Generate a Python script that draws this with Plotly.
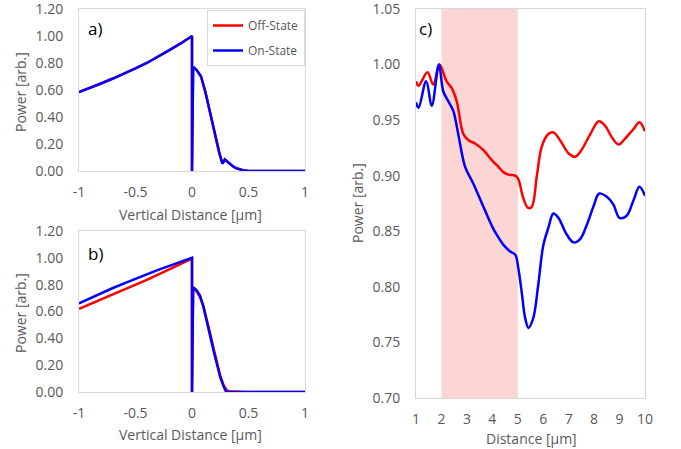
import plotly.graph_objects as go

W, H = 681, 449

# ---------- data ----------
# Panel a
a_x_off = [-1, -0.9, -0.8, -0.7, -0.6, -0.5, -0.4, -0.3, -0.2, -0.1, 0, 0,
           0.01, 0.04, 0.08, 0.12, 0.15, 0.18, 0.21, 0.24, 0.26, 0.27, 0.29, 0.31,
           0.34, 0.37, 0.40, 0.45, 0.50, 0.60, 0.75, 0.80, 0.85, 1.0]
a_y_off = [0.585, 0.615, 0.65, 0.685, 0.72, 0.76, 0.80, 0.845, 0.895, 0.945, 1.0, 0.0,
           0.77, 0.75, 0.70, 0.58, 0.47, 0.34, 0.23, 0.14, 0.08, 0.055, 0.085, 0.07,
           0.05, 0.03, 0.018, 0.006, 0.0, 0.0, 0.002, 0.004, 0.0, 0.0]
a_x_on = [-1, -0.9, -0.8, -0.7, -0.6, -0.5, -0.4, -0.3, -0.2, -0.1, 0, 0,
          0.01, 0.04, 0.08, 0.12, 0.15, 0.18, 0.21, 0.24, 0.26, 0.27, 0.29, 0.31,
          0.34, 0.37, 0.40, 0.45, 0.50, 0.60, 0.80, 1.0]
a_y_on = [0.585, 0.615, 0.65, 0.685, 0.72, 0.76, 0.80, 0.845, 0.895, 0.945, 1.0, 0.0,
          0.77, 0.75, 0.70, 0.58, 0.47, 0.34, 0.23, 0.14, 0.08, 0.055, 0.085, 0.07,
          0.05, 0.03, 0.018, 0.006, 0.0, 0.0, 0.0, 0.0]

# Panel b
b_x_off = [-1, -0.9, -0.8, -0.7, -0.6, -0.5, -0.4, -0.3, -0.2, -0.1, 0, 0,
           0.01, 0.04, 0.07, 0.10, 0.13, 0.16, 0.19, 0.22, 0.25, 0.28, 0.31, 0.35, 0.5, 1.0]
b_y_off = [0.62, 0.655, 0.69, 0.725, 0.76, 0.795, 0.835, 0.875, 0.915, 0.955, 0.995, 0.0,
           0.77, 0.75, 0.71, 0.64, 0.55, 0.44, 0.33, 0.22, 0.12, 0.05, 0.01, 0.003, 0.0, 0.0]
b_x_on = [-1, -0.9, -0.8, -0.7, -0.6, -0.5, -0.4, -0.3, -0.2, -0.1, 0, 0,
          0.01, 0.04, 0.07, 0.10, 0.13, 0.16, 0.19, 0.22, 0.25, 0.28, 0.30, 0.32, 0.5, 1.0]
b_y_on = [0.66, 0.70, 0.74, 0.775, 0.81, 0.845, 0.88, 0.91, 0.94, 0.97, 1.0, 0.0,
          0.78, 0.76, 0.72, 0.64, 0.54, 0.42, 0.31, 0.20, 0.11, 0.04, 0.005, 0.0, 0.0, 0.0]

# Panel c
c_x_off = [1.0, 1.1, 1.45, 1.68, 1.92, 2.2, 2.4, 2.6, 2.86, 3.06, 3.32, 3.65, 3.98, 4.24,
           4.44, 4.63, 4.9, 5.02, 5.2, 5.4, 5.55, 5.75, 5.94, 6.2, 6.4, 6.66, 7.0, 7.25,
           7.5, 7.85, 8.18, 8.43, 8.7, 8.96, 9.2, 9.55, 9.78, 10.0]
c_y_off = [0.985, 0.981, 0.993, 0.982, 1.0, 0.985, 0.979, 0.967, 0.9375, 0.932, 0.929, 0.923,
           0.914, 0.908, 0.903, 0.901, 0.900, 0.897, 0.881, 0.871, 0.872, 0.90, 0.926,
           0.9375, 0.939, 0.932, 0.92, 0.917, 0.923, 0.9375, 0.949, 0.945, 0.9345, 0.928,
           0.933, 0.942, 0.948, 0.940]
c_x_on = [1.0, 1.1, 1.4, 1.62, 1.9, 2.07, 2.27, 2.47, 2.66, 2.93, 3.25, 3.65, 4.0, 4.17,
          4.43, 4.69, 4.9, 5.02, 5.15, 5.29, 5.42, 5.61, 5.8, 6.0, 6.2, 6.4, 6.6, 6.9,
          7.19, 7.45, 7.7, 7.97, 8.2, 8.5, 8.76, 9.0, 9.28, 9.55, 9.78, 10.0]
c_y_on = [0.966, 0.961, 0.985, 0.963, 1.0, 0.976, 0.967, 0.958, 0.9375, 0.908, 0.893, 0.872,
          0.854, 0.847, 0.838, 0.832, 0.829, 0.817, 0.796, 0.772, 0.763, 0.772, 0.801,
          0.837, 0.853, 0.866, 0.862, 0.848, 0.840, 0.843, 0.855, 0.872, 0.884, 0.881,
          0.874, 0.862, 0.864, 0.878, 0.890, 0.882]

shade_range = [2, 5]
ab_xticks = [-1, -0.5, 0, 0.5, 1]
ab_xticklabels = ["-1", "-0.5", "0", "0.5", "1"]
ab_yticks = [0.0, 0.2, 0.4, 0.6, 0.8, 1.0, 1.2]
c_xticks = [1, 2, 3, 4, 5, 6, 7, 8, 9, 10]
c_yticks = [0.70, 0.75, 0.80, 0.85, 0.90, 0.95, 1.00, 1.05]

RED = "#FF0000"
BLUE = "#0000FF"
GRAY = "#595959"
BORDER = "#D9D9D9"
FONT = "Open Sans"

fig = go.Figure()

def add_pair(xo, yo, xn, yn, xa, ya, legend, shape="linear"):
    fig.add_trace(go.Scatter(x=xo, y=yo, mode="lines", name="Off-State",
                             legendgroup="off",
                             line=dict(color=RED, width=2.5, shape=shape),
                             xaxis=xa, yaxis=ya, showlegend=legend))
    fig.add_trace(go.Scatter(x=xn, y=yn, mode="lines", name="On-State",
                             legendgroup="on",
                             line=dict(color=BLUE, width=2.5, shape=shape),
                             xaxis=xa, yaxis=ya, showlegend=legend))

add_pair(a_x_off, a_y_off, a_x_on, a_y_on, "x", "y", True)
add_pair(b_x_off, b_y_off, b_x_on, b_y_on, "x2", "y2", False)
add_pair(c_x_off, c_y_off, c_x_on, c_y_on, "x3", "y3", False, shape="spline")

def px_x(p):
    return p / W

def px_y(p):
    return 1 - p / H

axis_common = dict(showgrid=False, zeroline=False, showline=True, mirror=True,
                   linecolor=BORDER, linewidth=1, ticks="", automargin=False,
                   ticklabeloverflow="allow",
                   tickfont=dict(family=FONT, size=14, color=GRAY))
xax = dict(ticklabelstandoff=8, **axis_common)
yax = dict(ticklabelstandoff=12, **axis_common)

fig.update_layout(
    width=W, height=H,
    margin=dict(l=0, r=0, t=0, b=0),
    paper_bgcolor="white", plot_bgcolor="white",
    font=dict(family=FONT, color=GRAY),
    xaxis=dict(domain=[px_x(79), px_x(305)], range=[-1, 1], anchor="y",
               tickvals=ab_xticks, ticktext=ab_xticklabels, **xax),
    yaxis=dict(domain=[px_y(171), px_y(9)], range=[0, 1.2], anchor="x",
               tickvals=ab_yticks, tickformat=".2f", **yax),
    xaxis2=dict(domain=[px_x(79), px_x(305)], range=[-1, 1], anchor="y2",
                tickvals=ab_xticks, ticktext=ab_xticklabels, **xax),
    yaxis2=dict(domain=[px_y(392), px_y(231)], range=[0, 1.2], anchor="x2",
                tickvals=ab_yticks, tickformat=".2f", **yax),
    xaxis3=dict(domain=[px_x(416), px_x(645)], range=[1, 10], anchor="y3",
                tickvals=c_xticks, **xax),
    yaxis3=dict(domain=[px_y(398), px_y(9)], range=[0.70, 1.05], anchor="x3",
                tickvals=c_yticks, tickformat=".2f", **yax),
    legend=dict(x=px_x(305), y=px_y(10), xanchor="right", yanchor="top",
                bordercolor=BORDER, borderwidth=1, bgcolor="white",
                font=dict(family=FONT, size=12, color=GRAY),
                itemwidth=30, traceorder="grouped", tracegroupgap=6),
    showlegend=True,
)

fig.add_shape(type="rect", xref="x3", yref="y3",
              x0=shade_range[0], x1=shade_range[1], y0=0.70, y1=1.05,
              fillcolor="#FCD5D5", line=dict(width=0), layer="below")

def ann(text, x, y, size=14, angle=0):
    fig.add_annotation(text=text, x=px_x(x), y=px_y(y), xref="paper", yref="paper",
                       showarrow=False, textangle=angle, xanchor="center", yanchor="middle",
                       font=dict(family=FONT, size=size, color=GRAY))

ann("Power [arb.]", 20, 92, angle=-90)
ann("Power [arb.]", 20, 313, angle=-90)
ann("Power [arb.]", 358, 203, angle=-90)
ann("Vertical Distance [µm]", 190, 215)
ann("Vertical Distance [µm]", 190, 434)
ann("Distance [µm]", 531, 438)

def label(text, x, y):
    fig.add_annotation(text=text, x=px_x(x), y=px_y(y), xref="paper", yref="paper",
                       showarrow=False, xanchor="center", yanchor="middle",
                       font=dict(family=FONT, size=17, color="black"))

label("a)", 95, 29)
label("b)", 95, 253)
label("c)", 425, 29)

fig.write_html("out.html", config={"displayModeBar": False},
               post_script="document.body.style.margin='0';document.body.style.overflow='hidden';")
